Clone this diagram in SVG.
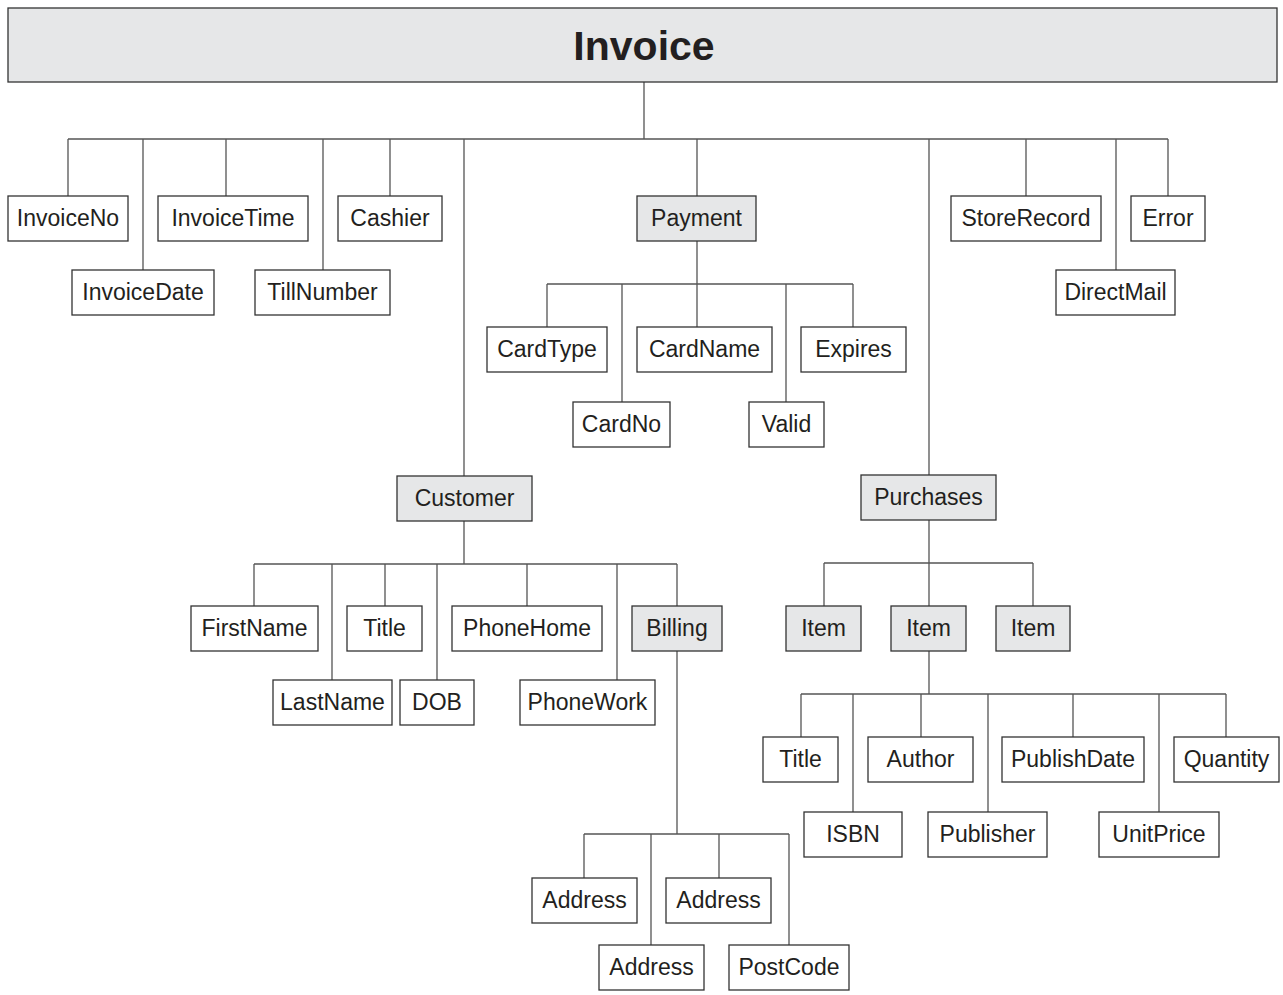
<svg xmlns="http://www.w3.org/2000/svg" width="1283" height="995" viewBox="0 0 1283 995">
<style>
.b{fill:#fff;stroke:#333;stroke-width:1.3}
.g{fill:#e6e7e8;stroke:#333;stroke-width:1.3}
.t{font-family:"Liberation Sans",Arial,sans-serif;font-size:23px;fill:#231f20;text-anchor:middle}
.h{font-family:"Liberation Sans",Arial,sans-serif;font-size:41px;font-weight:bold;fill:#231f20;text-anchor:middle}
.c{fill:none;stroke:#555;stroke-width:1.3}
</style>
<rect width="1283" height="995" fill="#fff"/>
<g id="connectors" class="c">
<path d="M644 82V139M68 139H1168M68 139V196M143 139V270M226 139V196M323 139V270M390 139V196M464 139V476M697 139V196M929 139V475M1026 139V196M1116 139V270M1168 139V196"/>
<path d="M697 240V284M547 284H853M547 284V327M622 284V402M697 284V327M786 284V402M853 284V327"/>
<path d="M464 521V564M254 564H677M254 564V606M332 564V680M385 564V606M437 564V680M527 564V606M617 564V680M677 564V606"/>
<path d="M677 651V834M584 834H789M584 834V878M651 834V945M719 834V878M789 834V945"/>
<path d="M929 520V563M824 563H1033M824 563V606M929 563V606M1033 563V606"/>
<path d="M929 651V694M801 694H1226M801 694V737M853 694V812M921 694V737M988 694V812M1073 694V737M1159 694V812M1226 694V737"/>
</g>
<g id="invoice"><rect class="g" x="8" y="8" width="1269" height="74"/><text class="h" x="644" y="60">Invoice</text></g>
<g id="invoiceno"><rect class="b" x="8" y="196" width="120" height="45"/><text class="t" x="68" y="226">InvoiceNo</text></g>
<g id="invoicedate"><rect class="b" x="72" y="270" width="142" height="45"/><text class="t" x="143" y="300">InvoiceDate</text></g>
<g id="invoicetime"><rect class="b" x="158" y="196" width="150" height="45"/><text class="t" x="233" y="226">InvoiceTime</text></g>
<g id="tillnumber"><rect class="b" x="255" y="270" width="135" height="45"/><text class="t" x="322.5" y="300">TillNumber</text></g>
<g id="cashier"><rect class="b" x="338" y="196" width="104" height="45"/><text class="t" x="390" y="226">Cashier</text></g>
<g id="payment"><rect class="g" x="637" y="196" width="119" height="45"/><text class="t" x="696.5" y="226">Payment</text></g>
<g id="storerecord"><rect class="b" x="951" y="196" width="150" height="45"/><text class="t" x="1026" y="226">StoreRecord</text></g>
<g id="directmail"><rect class="b" x="1056" y="270" width="119" height="45"/><text class="t" x="1115.5" y="300">DirectMail</text></g>
<g id="error"><rect class="b" x="1131" y="196" width="74" height="45"/><text class="t" x="1168" y="226">Error</text></g>
<g id="cardtype"><rect class="b" x="487" y="327" width="120" height="45"/><text class="t" x="547" y="357">CardType</text></g>
<g id="cardno"><rect class="b" x="573" y="402" width="97" height="45"/><text class="t" x="621.5" y="432">CardNo</text></g>
<g id="cardname"><rect class="b" x="637" y="327" width="135" height="45"/><text class="t" x="704.5" y="357">CardName</text></g>
<g id="valid"><rect class="b" x="749" y="402" width="75" height="45"/><text class="t" x="786.5" y="432">Valid</text></g>
<g id="expires"><rect class="b" x="801" y="327" width="105" height="45"/><text class="t" x="853.5" y="357">Expires</text></g>
<g id="customer"><rect class="g" x="397" y="476" width="135" height="45"/><text class="t" x="464.5" y="506">Customer</text></g>
<g id="firstname"><rect class="b" x="191" y="606" width="127" height="45"/><text class="t" x="254.5" y="636">FirstName</text></g>
<g id="lastname"><rect class="b" x="273" y="680" width="119" height="45"/><text class="t" x="332.5" y="710">LastName</text></g>
<g id="title1"><rect class="b" x="347" y="606" width="75" height="45"/><text class="t" x="384.5" y="636">Title</text></g>
<g id="dob"><rect class="b" x="400" y="680" width="74" height="45"/><text class="t" x="437" y="710">DOB</text></g>
<g id="phonehome"><rect class="b" x="452" y="606" width="150" height="45"/><text class="t" x="527" y="636">PhoneHome</text></g>
<g id="phonework"><rect class="b" x="520" y="680" width="135" height="45"/><text class="t" x="587.5" y="710">PhoneWork</text></g>
<g id="billing"><rect class="g" x="632" y="606" width="90" height="45"/><text class="t" x="677" y="636">Billing</text></g>
<g id="address1"><rect class="b" x="532" y="878" width="105" height="45"/><text class="t" x="584.5" y="908">Address</text></g>
<g id="address2"><rect class="b" x="599" y="945" width="105" height="45"/><text class="t" x="651.5" y="975">Address</text></g>
<g id="address3"><rect class="b" x="666" y="878" width="105" height="45"/><text class="t" x="718.5" y="908">Address</text></g>
<g id="postcode"><rect class="b" x="729" y="945" width="120" height="45"/><text class="t" x="789" y="975">PostCode</text></g>
<g id="purchases"><rect class="g" x="861" y="475" width="135" height="45"/><text class="t" x="928.5" y="505">Purchases</text></g>
<g id="item1"><rect class="g" x="786" y="606" width="75" height="45"/><text class="t" x="823.5" y="636">Item</text></g>
<g id="item2"><rect class="g" x="891" y="606" width="75" height="45"/><text class="t" x="928.5" y="636">Item</text></g>
<g id="item3"><rect class="g" x="996" y="606" width="74" height="45"/><text class="t" x="1033" y="636">Item</text></g>
<g id="title2"><rect class="b" x="763" y="737" width="75" height="45"/><text class="t" x="800.5" y="767">Title</text></g>
<g id="isbn"><rect class="b" x="804" y="812" width="98" height="45"/><text class="t" x="853" y="842">ISBN</text></g>
<g id="author"><rect class="b" x="868" y="737" width="105" height="45"/><text class="t" x="920.5" y="767">Author</text></g>
<g id="publisher"><rect class="b" x="928" y="812" width="119" height="45"/><text class="t" x="987.5" y="842">Publisher</text></g>
<g id="publishdate"><rect class="b" x="1002" y="737" width="142" height="45"/><text class="t" x="1073" y="767">PublishDate</text></g>
<g id="unitprice"><rect class="b" x="1099" y="812" width="120" height="45"/><text class="t" x="1159" y="842">UnitPrice</text></g>
<g id="quantity"><rect class="b" x="1174" y="737" width="105" height="45"/><text class="t" x="1226.5" y="767">Quantity</text></g>
</svg>
